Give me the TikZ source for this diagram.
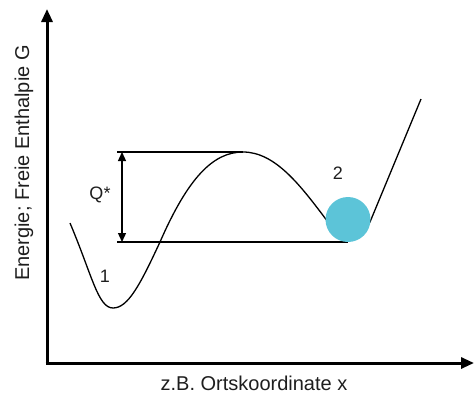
\documentclass[tikz,border=0pt]{standalone}
\usepackage{fontspec}
\setmainfont{Liberation Sans}
\usetikzlibrary{arrows.meta}
\definecolor{ballblue}{RGB}{92,196,216}
\definecolor{txt}{RGB}{30,30,30}
\tikzset{
  axis/.style={line width=3pt,-{Triangle[length=13pt,width=11pt]}},
  curve/.style={line width=1.3pt},
  level/.style={line width=1.5pt},
  dim/.style={line width=1.3pt,{Triangle[length=9pt,width=8pt]}-{Triangle[length=9pt,width=8pt]}},
  lbl/.style={text=txt,inner sep=0pt}
}
\begin{document}
\begin{tikzpicture}[x=1pt,y=-1pt]
\useasboundingbox (0,0) rectangle (474,394);
% axes
\coordinate (o) at (47,363);
\coordinate (ytop) at (47,9);
\coordinate (xend) at (474,363);
\draw[axis] ([yshift=-1.5pt]o) -- (ytop);
\draw[axis] ([xshift=-1.5pt]o) -- (xend);
% levels
\coordinate (ul) at (117,152);
\coordinate (peak) at (243,152);
\coordinate (ll) at (117,242);
\coordinate (lr) at (348,242);
\draw[level] (ul) -- (peak);
\draw[level] (ll) -- (lr);
% Q* arrow
\coordinate (qa) at (122,152);
\coordinate (qb) at (122,242);
\draw[dim] (qa) -- (qb);
% curve
\coordinate (cstart) at (70,223);
\coordinate (cend) at (421,99);
\draw[curve] (cstart) .. controls (92,275) and (98,308) .. (113,308)
  .. controls (128,308) and (140,285) .. (160,242)
  .. controls (188,178) and (213,152) .. (peak)
  .. controls (275,152) and (300,185) .. (325,218)
  .. controls (338,238) and (360,238) .. (370,222) -- (cend);
% ball
\fill[ballblue] (348,219.5) circle (22.5);
% labels
\node[lbl,font=\fontsize{18}{20}\selectfont] (q) at (100,195) {Q*};
\node[lbl,font=\fontsize{18}{20}\selectfont] (one) at (105,276) {1};
\node[lbl,font=\fontsize{18}{20}\selectfont] (two) at (338,173) {2};
\node[lbl,font=\fontsize{20}{24}\selectfont,rotate=90] (ylab) at (24,163) {Energie; Freie Enthalpie G};
\node[lbl,font=\fontsize{20}{24}\selectfont,anchor=base] (xlab) at (254,390) {z.B. Ortskoordinate x};
\end{tikzpicture}
\end{document}
